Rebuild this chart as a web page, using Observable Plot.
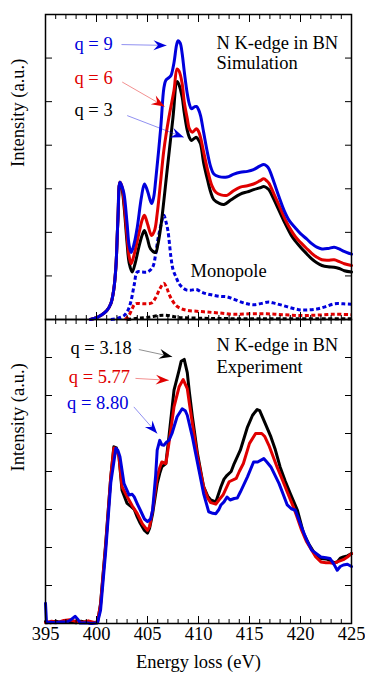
<!DOCTYPE html>
<html><head><meta charset="utf-8">
<script src="https://cdn.jsdelivr.net/npm/d3@7"></script>
<script src="https://cdn.jsdelivr.net/npm/@observablehq/plot@0.6"></script>
<style>
body{margin:0;background:#fff;}
#wrap{position:relative;width:365px;height:676px;overflow:hidden;}
#top,#bottom{position:absolute;left:0;}
#top{top:0;z-index:2;}
#bottom{top:300px;z-index:1;}
#wrap svg{overflow:visible;font-family:"Liberation Serif",serif !important;}
#wrap svg text{font-family:"Liberation Serif",serif !important;}
</style></head><body>
<div id="wrap"><div id="top"></div><div id="bottom"></div></div>
<script>
// ---------- Simulation (top panel): [energy loss eV, intensity a.u.] ----------
const simQ9 = [[399.4,0.0],[400.0,0.04],[400.4,0.09],[401.0,0.2],[401.4,0.36],[401.7,0.7],[401.9,1.2],[402.1,2.3],[402.3,3.15],[402.5,3.05],[402.7,2.88],[403.0,2.2],[403.2,1.7],[403.4,1.54],[403.7,1.75],[404.0,2.12],[404.4,2.8],[404.7,3.11],[405.0,2.95],[405.4,2.66],[405.6,2.8],[405.8,3.19],[406.3,4.41],[406.6,5.3],[406.8,5.49],[407.1,5.55],[407.3,5.6],[407.6,5.9],[407.85,6.3],[408.0,6.4],[408.2,6.35],[408.4,6.1],[408.6,5.7],[408.9,5.18],[409.1,4.95],[409.3,4.84],[409.6,4.88],[409.8,4.89],[410.0,4.82],[410.2,4.68],[410.5,4.3],[410.9,3.8],[411.2,3.5],[411.5,3.34],[412.0,3.28],[412.8,3.27],[413.4,3.33],[414.1,3.38],[414.8,3.4],[415.4,3.44],[416.0,3.52],[416.4,3.56],[416.7,3.52],[416.9,3.46],[417.4,3.15],[417.9,2.81],[418.4,2.5],[418.9,2.27],[419.5,2.1],[420.0,1.97],[420.6,1.85],[421.1,1.74],[421.6,1.66],[422.1,1.62],[422.7,1.63],[423.3,1.66],[423.8,1.62],[424.2,1.57],[425.0,1.5]];
const simQ6 = [[399.4,0.0],[400.0,0.04],[400.4,0.09],[401.0,0.2],[401.4,0.36],[401.7,0.7],[401.9,1.2],[402.1,2.3],[402.3,3.15],[402.5,3.05],[402.7,2.7],[403.0,1.9],[403.2,1.45],[403.4,1.28],[403.7,1.5],[404.15,1.97],[404.5,2.3],[404.7,2.39],[405.0,2.2],[405.4,1.93],[405.7,2.05],[405.95,2.43],[406.3,3.2],[406.6,3.88],[407.1,4.64],[407.6,5.26],[407.9,5.75],[408.1,5.7],[408.4,5.41],[408.6,5.0],[408.9,4.61],[409.1,4.38],[409.4,4.3],[409.8,4.38],[410.0,4.32],[410.2,4.18],[410.5,3.85],[410.9,3.42],[411.3,3.08],[411.7,2.92],[412.2,2.86],[412.8,2.85],[413.4,2.95],[414.1,3.04],[414.8,3.07],[415.4,3.11],[416.0,3.18],[416.4,3.23],[416.7,3.18],[416.9,3.13],[417.4,2.88],[417.9,2.62],[418.5,2.3],[419.1,2.04],[419.5,1.9],[420.0,1.77],[420.6,1.63],[421.1,1.52],[421.6,1.43],[422.1,1.37],[422.7,1.36],[423.3,1.37],[423.8,1.33],[424.3,1.28],[425.0,1.24]];
const simQ3 = [[399.4,0.0],[400.0,0.04],[400.4,0.09],[401.0,0.2],[401.4,0.36],[401.7,0.7],[401.9,1.2],[402.1,2.3],[402.3,3.15],[402.5,3.0],[402.7,2.6],[403.0,1.75],[403.2,1.3],[403.5,1.09],[403.8,1.3],[404.15,1.66],[404.5,1.95],[404.7,2.04],[405.0,1.85],[405.3,1.62],[405.8,1.54],[406.0,1.7],[406.3,2.12],[406.96,3.5],[407.5,4.64],[407.9,5.46],[408.1,5.38],[408.4,5.1],[408.6,4.75],[408.9,4.34],[409.1,4.18],[409.3,4.11],[409.6,4.16],[409.8,4.18],[410.0,4.12],[410.2,4.03],[410.5,3.6],[410.9,3.19],[411.2,2.92],[411.5,2.75],[412.0,2.67],[412.5,2.64],[413.2,2.75],[414.1,2.88],[414.8,2.93],[415.4,2.98],[416.0,3.02],[416.4,3.05],[416.7,3.02],[416.9,2.98],[417.4,2.75],[417.9,2.5],[418.5,2.2],[419.1,1.93],[419.5,1.8],[420.0,1.66],[420.6,1.51],[421.1,1.39],[421.6,1.3],[422.1,1.24],[422.7,1.21],[423.3,1.2],[423.8,1.17],[424.3,1.12],[425.0,1.09]];
const monoQ9 = [[401.4,0.0],[402.0,0.02],[402.7,0.09],[403.1,0.22],[403.4,0.44],[403.7,0.8],[404.0,1.09],[404.5,1.09],[405.0,1.09],[405.5,1.2],[405.8,1.5],[406.0,1.81],[406.3,2.15],[406.6,2.39],[406.8,2.25],[407.0,2.04],[407.3,1.43],[407.5,1.15],[407.8,0.97],[408.1,0.82],[408.4,0.74],[408.8,0.68],[409.2,0.67],[409.8,0.69],[410.3,0.63],[410.8,0.59],[411.4,0.56],[412.1,0.53],[412.8,0.52],[413.4,0.47],[414.2,0.4],[414.8,0.36],[415.4,0.34],[416.2,0.37],[416.9,0.4],[417.5,0.37],[418.3,0.32],[419.2,0.26],[420.0,0.22],[420.8,0.22],[421.6,0.24],[422.4,0.29],[423.3,0.36],[424.2,0.36],[425.0,0.35]];
const monoQ6 = [[402.8,0.0],[403.2,0.1],[403.5,0.25],[403.8,0.36],[404.6,0.36],[405.4,0.38],[405.8,0.5],[406.2,0.7],[406.6,0.83],[406.9,0.72],[407.1,0.59],[407.4,0.45],[407.8,0.32],[408.3,0.25],[408.9,0.21],[409.8,0.19],[410.9,0.17],[412.0,0.15],[413.4,0.12],[415.0,0.13],[416.7,0.13],[418.3,0.11],[420.0,0.09],[421.6,0.1],[423.3,0.12],[425.0,0.11]];
const monoQ3 = [[403.0,0.0],[404.0,0.03],[405.0,0.05],[406.6,0.1],[408.0,0.05],[410.0,0.03],[413.0,0.02],[425.0,0.02]];

// ---------- Experiment (bottom panel) ----------
const expQ318 = [[395.0,0.05],[395.5,0.02],[396.0,0.06],[396.5,0.03],[397.0,0.08],[397.5,0.04],[398.0,0.02],[398.5,0.06],[399.0,0.03],[399.5,0.01],[400.1,0.02],[400.4,0.53],[400.9,2.1],[401.4,3.86],[401.7,4.65],[401.95,4.62],[402.2,4.4],[402.5,3.51],[403.0,3.16],[403.3,3.1],[403.7,3.0],[404.0,2.8],[404.3,2.63],[404.7,2.45],[405.0,2.38],[405.2,2.5],[405.5,2.89],[405.95,3.68],[406.2,3.95],[406.4,4.12],[406.8,4.21],[407.1,4.91],[407.6,6.14],[408.1,6.67],[408.3,6.9],[408.6,6.95],[408.9,6.6],[409.1,6.1],[409.4,5.44],[409.9,4.47],[410.5,3.6],[410.9,3.35],[411.2,3.25],[411.7,3.2],[412.2,3.6],[412.5,3.8],[412.8,3.9],[413.2,4.0],[413.5,4.21],[414.1,4.56],[414.8,5.17],[415.3,5.48],[415.75,5.63],[416.0,5.6],[416.4,5.35],[417.1,4.91],[417.5,4.6],[418.0,4.12],[418.5,3.75],[419.0,3.42],[419.7,2.98],[420.3,2.37],[420.8,2.1],[421.3,1.88],[421.7,1.78],[422.0,1.71],[422.5,1.7],[422.9,1.66],[423.3,1.6],[423.6,1.62],[423.9,1.72],[424.2,1.75],[424.6,1.78],[425.0,1.84]];
const expQ577 = [[395.0,0.02],[395.6,0.06],[396.2,0.03],[396.8,0.08],[397.4,0.1],[398.0,0.05],[398.6,0.03],[399.2,0.07],[399.8,0.03],[400.1,0.05],[400.4,0.5],[400.9,2.05],[401.4,3.86],[401.7,4.62],[401.95,4.6],[402.2,4.4],[402.5,3.6],[403.0,3.34],[403.5,3.1],[404.0,2.89],[404.5,2.62],[405.0,2.45],[405.2,2.55],[405.5,2.98],[405.95,3.86],[406.2,4.1],[406.4,4.25],[406.8,4.21],[407.1,4.74],[407.6,5.7],[408.1,6.23],[408.5,6.42],[408.9,6.18],[409.1,5.8],[409.4,5.26],[409.9,4.39],[410.5,3.6],[410.9,3.3],[411.2,3.18],[411.7,3.14],[412.0,3.25],[412.4,3.38],[413.0,3.73],[413.7,3.82],[414.0,4.0],[414.4,4.21],[415.0,4.74],[415.6,5.0],[416.2,5.0],[416.5,4.92],[416.9,4.69],[417.7,4.12],[418.2,3.8],[418.7,3.46],[419.3,3.07],[419.6,2.85],[420.1,2.46],[420.6,2.15],[421.1,1.93],[421.5,1.75],[422.0,1.62],[422.5,1.6],[422.9,1.6],[423.3,1.58],[423.6,1.62],[424.2,1.68],[424.6,1.75],[425.0,1.84]];
const expQ880 = [[395.0,0.53],[395.1,0.02],[395.5,0.03],[396.0,0.02],[396.5,0.04],[397.1,0.04],[397.5,0.1],[397.9,0.19],[398.2,0.1],[398.4,0.01],[399.0,0.02],[399.5,0.0],[400.1,0.02],[400.4,0.35],[400.9,1.9],[401.4,3.7],[401.9,4.61],[402.1,4.55],[402.3,4.39],[402.7,3.68],[403.2,3.38],[403.5,3.4],[403.7,3.33],[404.0,3.15],[404.3,2.98],[404.7,2.75],[405.0,2.68],[405.3,2.75],[405.5,2.98],[405.8,3.9],[405.95,4.56],[406.2,4.82],[406.4,4.7],[406.6,4.69],[406.9,4.78],[407.1,4.82],[407.4,5.0],[407.9,5.44],[408.4,5.65],[408.7,5.6],[408.9,5.48],[409.4,4.91],[409.7,4.5],[410.05,4.03],[410.5,3.42],[411.0,2.94],[411.4,2.9],[411.7,2.89],[412.0,3.0],[412.2,3.12],[412.5,3.2],[412.8,3.33],[413.1,3.25],[413.5,3.29],[413.8,3.3],[414.1,3.46],[414.8,3.86],[415.4,4.25],[415.8,4.25],[416.4,4.34],[416.7,4.25],[417.1,4.12],[417.9,3.68],[418.3,3.4],[418.7,3.12],[419.1,3.02],[419.5,2.98],[420.1,2.54],[420.6,2.2],[421.1,1.93],[421.5,1.85],[422.0,1.75],[422.5,1.73],[422.9,1.71],[423.3,1.55],[423.6,1.4],[423.9,1.5],[424.2,1.54],[424.6,1.56],[425.0,1.5]];

// ---------- Axes ----------
const xMajorTicks = [395, 400, 405, 410, 415, 420, 425];
const xMinorTicks = [396,397,398,399,401,402,403,404,406,407,408,409,411,412,413,414,416,417,418,419,421,422,423,424];
const simYTicks = [1, 2, 3, 4, 5, 6];
const expYTicks = [1, 2, 3, 4, 5, 6, 7];
const xTitle = "Energy loss (eV)";
const yTitle = "Intensity (a.u.)";

// ---------- Annotations (in data coordinates) ----------
const simLabels = ["q = 9", "q = 6", "q = 3"];
const expLabels = ["q = 3.18", "q = 5.77", "q = 8.80"];
const simTitle = ["N K-edge in BN", "Simulation"];
const expTitle = ["N K-edge in BN", "Experiment"];
const monoLabel = "Monopole";

const BLUE = "#0000dc", RED = "#e00000", BLACK = "#000000";
const FONT = "Liberation Serif";
const FS = 18.5;

const simNotes = [
  {text: simLabels[0], x: 397.84, y: 6.31, color: BLUE},
  {text: simLabels[1], x: 397.84, y: 5.53, color: RED},
  {text: simLabels[2], x: 397.84, y: 4.80, color: BLACK},
  {text: simTitle[0], x: 411.76, y: 6.34, color: BLACK},
  {text: simTitle[1], x: 411.76, y: 5.88, color: BLACK},
  {text: monoLabel, x: 409.22, y: 1.12, color: BLACK}
];
const expNotes = [
  {text: expLabels[0], x: 397.45, y: 7.24, color: BLACK},
  {text: expLabels[1], x: 397.28, y: 6.49, color: RED},
  {text: expLabels[2], x: 397.12, y: 5.79, color: BLUE},
  {text: expTitle[0], x: 411.76, y: 7.32, color: BLACK},
  {text: expTitle[1], x: 411.76, y: 6.74, color: BLACK}
];
const simArrows = [
  {x1: 402.45, y1: 6.31, x2: 406.86, y2: 6.29, color: BLUE, angle: 1},
  {x1: 402.52, y1: 5.45, x2: 406.67, y2: 4.89, color: RED, angle: 30},
  {x1: 403.01, y1: 4.68, x2: 408.56, y2: 4.18, color: BLUE, angle: 21}
];
const expArrows = [
  {x1: 404.15, y1: 7.21, x2: 407.42, y2: 7.02, color: BLACK, angle: 12.5},
  {x1: 403.82, y1: 6.45, x2: 407.09, y2: 6.40, color: RED, angle: 3},
  {x1: 403.66, y1: 5.70, x2: 405.95, y2: 5.00, color: BLUE, angle: 49}
];

const arrowHead = {draw(ctx) {
  ctx.moveTo(0, 0); ctx.lineTo(-13, -5); ctx.lineTo(-8.5, 0); ctx.lineTo(-13, 5); ctx.closePath();
}};

function frameMarks(yTicks, showXLabels) {
  const blank = () => "";
  const m = [
    Plot.frame({stroke: BLACK, strokeWidth: 1.5}),
    Plot.axisY({anchor: "left", ticks: yTicks, tickSize: -7, tickFormat: blank, label: null}),
    Plot.axisY({anchor: "right", ticks: yTicks, tickSize: -7, tickFormat: blank, label: null}),
    Plot.axisX({anchor: "bottom", ticks: xMajorTicks, tickSize: -7, tickFormat: blank, label: null}),
    Plot.axisX({anchor: "bottom", ticks: xMinorTicks, tickSize: -4, tickFormat: blank, label: null}),
    Plot.axisX({anchor: "top", ticks: xMajorTicks, tickSize: -7, tickFormat: blank, label: null}),
    Plot.axisX({anchor: "top", ticks: xMinorTicks, tickSize: -4, tickFormat: blank, label: null}),
    Plot.text([yTitle], {frameAnchor: "left", dx: -27, rotate: -90, text: d => d, fontSize: FS, fontFamily: FONT, fill: BLACK})
  ];
  if (showXLabels) {
    m.push(Plot.axisX({anchor: "bottom", ticks: xMajorTicks, tickSize: 0, tickPadding: 3, fontSize: FS, fontFamily: FONT, label: null, tickFormat: d3.format("d")}));
    m.push(Plot.text([xTitle], {frameAnchor: "bottom", dy: 44, text: d => d, fontSize: FS, fontFamily: FONT, fill: BLACK}));
  }
  return m;
}

function lineOf(data, color, dashed, curve) {
  return Plot.line(data, {x: d => d[0], y: d => d[1], stroke: color, strokeWidth: 3,
    strokeDasharray: dashed ? "4,2.5" : null, strokeLinecap: dashed ? "butt" : "round",
    curve: curve, strokeLinejoin: "round"});
}

function annotate(notes, arrows) {
  return [
    Plot.link(arrows, {x1: "x1", y1: "y1", x2: "x2", y2: "y2", stroke: "color", strokeWidth: 0.8, strokeOpacity: 0.55}),
    Plot.dot(arrows, {x: "x2", y: "y2", symbol: arrowHead, r: 4, fill: "color", stroke: "none", rotate: "angle"}),
    Plot.text(notes, {x: "x", y: "y", text: "text", fill: "color", textAnchor: "start", fontSize: FS, fontFamily: FONT})
  ];
}

const common = {
  width: 365, marginLeft: 45, marginRight: 14,
  x: {domain: [395, 425]},
  color: {type: "identity"},
  style: {fontFamily: FONT, fontSize: FS + "px", background: "none", overflow: "visible"}
};

const topPlot = Plot.plot({
  ...common,
  height: 320, marginTop: 14, marginBottom: 1,
  y: {domain: [0, 7]},
  marks: [
    lineOf(monoQ3, BLACK, true, "catmull-rom"),
    lineOf(monoQ6, RED, true, "catmull-rom"),
    lineOf(monoQ9, BLUE, true, "catmull-rom"),
    lineOf(simQ3, BLACK, false, "catmull-rom"),
    lineOf(simQ6, RED, false, "catmull-rom"),
    lineOf(simQ9, BLUE, false, "catmull-rom"),
    ...frameMarks(simYTicks, false),
    ...annotate(simNotes, simArrows)
  ]
});

const bottomPlot = Plot.plot({
  ...common,
  height: 376, marginTop: 19, marginBottom: 53,
  y: {domain: [0, 8]},
  marks: [
    lineOf(expQ318, BLACK, false, "linear"),
    lineOf(expQ577, RED, false, "linear"),
    lineOf(expQ880, BLUE, false, "linear"),
    ...frameMarks(expYTicks, true),
    ...annotate(expNotes, expArrows)
  ]
});

document.getElementById("top").append(topPlot);
document.getElementById("bottom").append(bottomPlot);
</script>
</body></html>
